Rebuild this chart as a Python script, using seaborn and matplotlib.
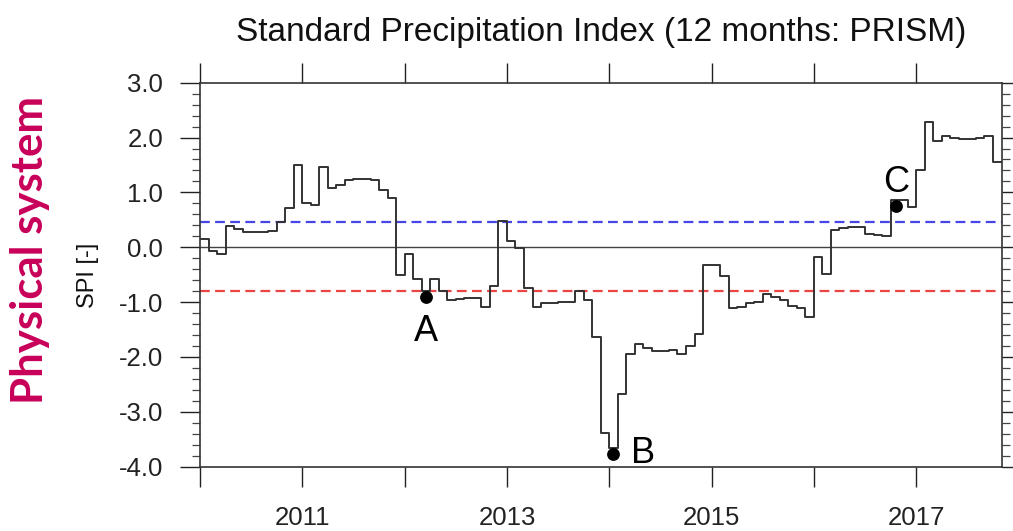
import numpy as np
import pandas as pd
import matplotlib
matplotlib.use("Agg")
import matplotlib.pyplot as plt
from matplotlib.ticker import MultipleLocator
import seaborn as sns

# 12-month Standard Precipitation Index (PRISM), monthly from Jan 2010 to Oct 2017
spi_2010 = [0.15, -0.06, -0.12, 0.38, 0.33, 0.27, 0.27, 0.27, 0.29, 0.46, 0.71, 1.50]
spi_2011 = [0.81, 0.77, 1.46, 1.08, 1.13, 1.23, 1.24, 1.24, 1.23, 1.04, 0.90, -0.50]
spi_2012 = [-0.13, -0.58, -0.79, -0.58, -0.80, -0.96, -0.94, -0.93, -0.93, -1.08, -0.70, 0.47]
spi_2013 = [0.11, -0.02, -0.74, -1.08, -1.02, -1.01, -0.99, -0.99, -0.80, -0.97, -1.63, -3.39]
spi_2014 = [-3.66, -2.68, -1.95, -1.77, -1.84, -1.90, -1.90, -1.88, -1.94, -1.80, -1.58, -0.33]
spi_2015 = [-0.33, -0.53, -1.11, -1.08, -1.01, -0.99, -0.85, -0.91, -0.97, -1.07, -1.11, -1.27]
spi_2016 = [-0.18, -0.48, 0.31, 0.36, 0.37, 0.37, 0.25, 0.23, 0.20, 0.86, 0.87, 0.74]
spi_2017 = [1.40, 2.29, 1.94, 2.02, 2.00, 1.98, 1.97, 1.99, 2.03, 1.56]

start_year = 2010

# threshold levels
wet_threshold = 0.46
dry_threshold = -0.79

# highlighted events
event_labels = ["A", "B", "C"]
event_time = [2012.21, 2014.04, 2016.80]
event_spi = [-0.90, -3.77, 0.745]

year_ticks = list(range(2010, 2018))
year_labels = [str(y) if y % 2 == 1 else "" for y in year_ticks]
spi_ticks = [-4.0, -3.0, -2.0, -1.0, 0.0, 1.0, 2.0, 3.0]
spi_tick_labels = [f"{v:.1f}" for v in spi_ticks]

title = "Standard Precipitation Index (12 months: PRISM)"
y_label = "SPI [-]"
side_label = "Physical system"

# ---------------------------------------------------------------------------
spi = np.concatenate([spi_2010, spi_2011, spi_2012, spi_2013,
                      spi_2014, spi_2015, spi_2016, spi_2017])
n = len(spi)
time = start_year + np.arange(n) / 12.0
# repeat the last value at the end of its month so the final step is drawn
df = pd.DataFrame({
    "time": np.append(time, start_year + n / 12.0),
    "spi": np.append(spi, spi[-1]),
})

sns.set_theme(style="ticks")
plt.rcParams["font.family"] = ["Liberation Sans", "DejaVu Sans"]

W, H = 1013, 531
fig = plt.figure(figsize=(W / 100, H / 100), dpi=100)
fig.patch.set_facecolor("white")
ax = fig.add_axes([200 / W, 1 - 466.7 / H, 801.5 / W, 384 / H])
ax.set_facecolor("white")

ax.axhline(0.0, color="#444444", lw=1.0, zorder=1)
ax.axhline(wet_threshold, color="#4646E6", lw=1.6, ls=(0, (4.4, 2.4)), zorder=2)
ax.axhline(dry_threshold, color="#EA4545", lw=1.6, ls=(0, (4.4, 2.4)), zorder=2)

sns.lineplot(data=df, x="time", y="spi", drawstyle="steps-post",
             color="#333333", linewidth=1.4, ax=ax, zorder=3)

sns.scatterplot(x=event_time, y=event_spi, color="black", s=85,
                edgecolor="black", linewidth=0, zorder=5, ax=ax, legend=False)

label_offsets = {"A": (0.0, -0.80, "center", "baseline"),
                 "B": (0.17, -0.16, "left", "baseline"),
                 "C": (0.0, 0.26, "center", "baseline")}
for lab, t, v in zip(event_labels, event_time, event_spi):
    dx, dy, ha, va = label_offsets[lab]
    ax.text(t + dx, v + dy, lab, fontsize=26, ha=ha, va=va, color="black", zorder=6)

ax.set_xlim(start_year, start_year + n / 12.0)
ax.set_ylim(-4.0, 3.0)

ax.set_xticks(year_ticks)
ax.set_xticklabels(year_labels)
ax.set_yticks(spi_ticks)
ax.set_yticklabels(spi_tick_labels)
ax.yaxis.set_minor_locator(MultipleLocator(0.2))
ax.xaxis.set_minor_locator(plt.NullLocator())

ax.tick_params(axis="y", which="major", direction="out", length=14.4, width=1.0,
               left=True, right=True, labelleft=True, labelright=False,
               pad=12, labelsize=18.5, colors="#222222")
ax.tick_params(axis="y", which="minor", direction="out", length=5.8, width=0.9,
               left=True, right=True, colors="#444444")
ax.tick_params(axis="x", which="major", direction="out", length=14.4, width=1.0,
               top=True, bottom=True, labeltop=False, labelbottom=True,
               pad=14, labelsize=18.5, colors="#222222")

for s in ax.spines.values():
    s.set_visible(True)
    s.set_linewidth(1.2)
    s.set_color("#333333")

ax.set_xlabel("")
ax.set_ylabel("")
ax.grid(False)

fig.text(601 / W, 1 - 41 / H, title, ha="center", va="baseline",
         fontsize=24, color="#111111")
fig.text(88 / W, 1 - 275 / H, y_label, rotation=90, ha="center", va="center",
         fontsize=17, color="#111111")
fig.text(30 / W, 1 - 250 / H, side_label, rotation=90, ha="center", va="center",
         fontsize=31.5, fontweight="bold", color="#C8005A",
         family=["Lato", "DejaVu Sans"])

fig.savefig("out.png", dpi=100, facecolor="white")
